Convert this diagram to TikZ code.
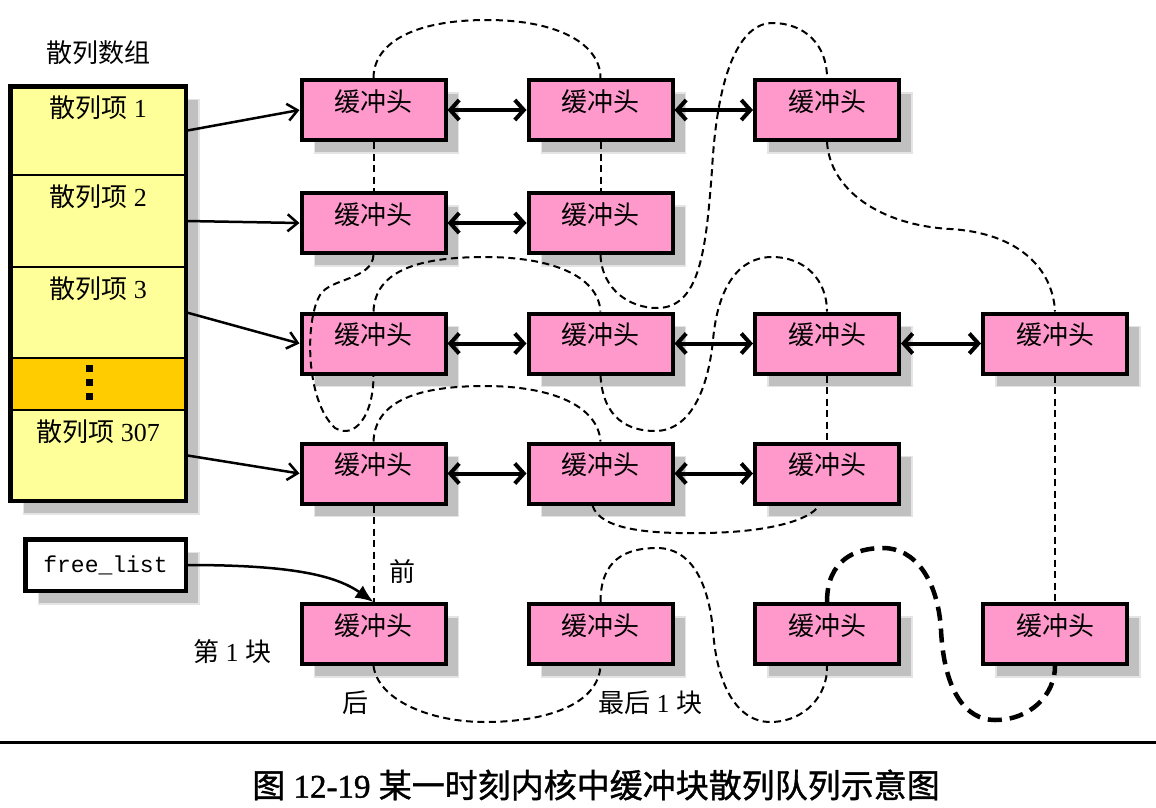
\documentclass[tikz,border=0pt]{standalone}
\usepackage{fontspec}
\setmainfont{Liberation Serif}
\newfontfamily\zhfont{Noto Sans CJK SC}
\newfontfamily\zhcap[FakeBold=1.2]{Noto Sans CJK SC}
\newfontfamily\capdig[FakeBold=1.2]{Liberation Serif}
\newfontfamily\monofont{Liberation Mono}
\newcommand\zh[1]{{\zhfont #1}}
\usetikzlibrary{arrows.meta,shadows,calc}
\definecolor{pinkc}{HTML}{FF99CC}
\definecolor{yellowc}{HTML}{FFFF99}
\definecolor{orangec}{HTML}{FFCC00}
\definecolor{shadowc}{HTML}{C0C0C0}
\definecolor{shadowedge}{HTML}{E4E4E4}
\begin{document}
\begin{tikzpicture}[x=1pt,y=-1pt,
  shad/.style={drop shadow={shadow xshift=13pt,shadow yshift=-13pt,fill=shadowc,draw=shadowedge,line width=1.5pt,opacity=1}},
  bh/.style={shad,draw,line width=4pt,fill=pinkc,minimum width=144pt,minimum height=60pt,inner sep=0pt,
    font=\fontsize{26pt}{30pt}\zhfont,text height=20pt,text depth=18pt},
  frame/.style={shad,draw,line width=4.5pt,fill=yellowc,minimum width=175.5pt,minimum height=414.5pt,inner sep=0pt,outer sep=0pt},
  hitem/.style={draw,line width=2pt,fill=yellowc,minimum width=175.5pt,inner sep=0pt},
  hlab/.style={label={[anchor=north,yshift=-10pt,inner sep=0pt,font=\fontsize{26pt}{30pt}\selectfont]north:#1}},
  txt/.style={inner sep=0pt,font=\fontsize{26pt}{30pt}\selectfont},
  flbox/.style={shad,draw,line width=4.5pt,fill=white,minimum width=160.5pt,minimum height=51.5pt,inner sep=0pt,
    font=\fontsize{23pt}{26pt}\monofont},
  hashar/.style={line width=2.5pt,-{Straight Barb[length=10pt,width=17pt]}},
  dblar/.style={line width=4pt,{Straight Barb[length=9pt,width=20pt]}-{Straight Barb[length=9pt,width=20pt]}},
  flar/.style={line width=2.5pt,-{Latex[length=18pt,width=15pt]}},
  dl/.style={line width=2pt,dash pattern=on 7pt off 4.5pt},
  thickdl/.style={line width=4.5pt,dash pattern=on 14pt off 8pt},
]
\useasboundingbox (0,0) rectangle (1156,807);

% hash array
\node[txt] (title) at (98,53) {\zh{散列数组}};
\node[frame] (harr) at (98,293.5) {};
\node[hitem,minimum height=88.75pt,hlab={\zh{散列项} 1}] (h1) at (98,130.625) {};
\node[hitem,minimum height=92pt,hlab={\zh{散列项} 2}] (h2) at (98,221) {};
\node[hitem,minimum height=91pt,hlab={\zh{散列项} 3}] (h3) at (98,312.5) {};
\node[hitem,minimum height=52pt,fill=orangec] (hd) at (98,384) {};
\node[hitem,minimum height=90.75pt,hlab={\zh{散列项} 307}] (h307) at (98,455.375) {};
\draw[line width=4.5pt] (harr.north west) rectangle (harr.south east);
\fill (85.5,364.5) rectangle ++(7,7);
\fill (85.5,378.5) rectangle ++(7,7);
\fill (85.5,392.5) rectangle ++(7,7);

% free list
\node[flbox] (fl) at (105.5,565) {free\_list};

% buffer heads
\node[bh] (b11) at (373.5,110) {缓冲头};
\node[bh] (b12) at (600.5,110) {缓冲头};
\node[bh] (b13) at (827,110) {缓冲头};
\node[bh] (b21) at (373.5,223) {缓冲头};
\node[bh] (b22) at (600.5,223) {缓冲头};
\node[bh] (b31) at (373.5,343.5) {缓冲头};
\node[bh] (b32) at (600.5,343.5) {缓冲头};
\node[bh] (b33) at (827,343.5) {缓冲头};
\node[bh] (b34) at (1055,343.5) {缓冲头};
\node[bh] (b41) at (373.5,473.5) {缓冲头};
\node[bh] (b42) at (600.5,473.5) {缓冲头};
\node[bh] (b43) at (827,473.5) {缓冲头};
\node[bh] (b51) at (373.5,634) {缓冲头};
\node[bh] (b52) at (600.5,634) {缓冲头};
\node[bh] (b53) at (827,634) {缓冲头};
\node[bh] (b54) at (1055,634) {缓冲头};

% labels
\node[txt] (lqian) at (402,572) {\zh{前}};
\node[txt] (lfirst) at (232,652) {\zh{第} 1 \zh{块}};
\node[txt] (lhou) at (355,703) {\zh{后}};
\node[txt] (llast) at (650,703) {\zh{最后} 1 \zh{块}};

% hash arrows
\draw[hashar] (h1.east) -- (b11.west);
\draw[hashar] (h2.east) -- (b21.west);
\draw[hashar] (h3.east) -- (b31.west);
\draw[hashar] (h307.east) -- (b41.west);

% double arrows
\draw[dblar] (b11.east) -- (b12.west);
\draw[dblar] (b12.east) -- (b13.west);
\draw[dblar] (b21.east) -- (b22.west);
\draw[dblar] (b31.east) -- (b32.west);
\draw[dblar] (b32.east) -- (b33.west);
\draw[dblar] (b33.east) -- (b34.west);
\draw[dblar] (b41.east) -- (b42.west);
\draw[dblar] (b42.east) -- (b43.west);

% free list arrow
\draw[flar] (fl.east) .. controls (290,565) and (335,575) .. (b51.north);

% dashed links
\draw[dl] (b11.north) .. controls (373.5,45) and (410,20) .. (487,20) .. controls (560,20) and (600.5,45) .. (b12.north);
\draw[dl] (b11.south) -- (b21.north);
\draw[dl] (b12.south) -- (b22.north);
\draw[dl] (b22.south) .. controls (602,290) and (630,308) .. (657,308) .. controls (700,308) and (706,250) .. (712,170)
   .. controls (718,60) and (745,23) .. (772,23) .. controls (805,23) and (827,45) .. (b13.north);
\draw[dl] (b13.south) .. controls (830,190) and (880,225) .. (950,229) .. controls (1020,233) and (1053,270) .. (b34.north);
\draw[dl] (b21.south) .. controls (372,280) and (330,278) .. (320,295) .. controls (305,320) and (305,400) .. (335,428)
   .. controls (355,440) and (373.5,415) .. (b31.south);
\draw[dl] (b31.north) .. controls (375,270) and (420,257) .. (485,257) .. controls (550,257) and (598,275) .. (b32.north);
\draw[dl] (b41.north) .. controls (375,400) and (420,386) .. (485,386) .. controls (550,386) and (598,405) .. (b42.north);
\draw[dl] (b32.south) .. controls (603,420) and (630,431) .. (655,431) .. controls (690,431) and (708,390) .. (713,340)
   .. controls (718,285) and (740,257) .. (772,257) .. controls (805,257) and (827,280) .. (b33.north);
\draw[dl] (b33.south) -- (b43.north);
\draw[dl] (b34.south) -- (b54.north);
\draw[dl] ($(b42.south)+(-8,0)$) .. controls (600,530) and (650,534) .. (705,533) .. controls (770,532) and (810,520) .. ($(b43.south)+(-8,0)$);
\draw[dl] (b41.south) -- (b51.north);
\draw[dl] (b51.south) .. controls (378,700) and (430,722) .. (485,722) .. controls (545,722) and (598,705) .. (b52.south);
\draw[dl] (b52.north) .. controls (600.5,560) and (625,548) .. (657,548) .. controls (690,548) and (708,580) .. (713,630)
   .. controls (717,690) and (740,722) .. (770,722) .. controls (805,722) and (828,695) .. (b53.south);
\draw[thickdl] (b53.north) .. controls (827,560) and (855,548) .. (883,548) .. controls (915,548) and (938,580) .. (941,630)
   .. controls (944,690) and (965,720) .. (995,720) .. controls (1030,720) and (1055,695) .. (b54.south);

% caption
\draw[line width=3pt] (0,742) -- (1156,742);
\node[inner sep=0pt,font=\fontsize{33pt}{38pt}\selectfont] (cap) at (596,785) {{\zhcap 图} {\capdig 12-19} {\zhcap 某一时刻内核中缓冲块散列队列示意图}};
\end{tikzpicture}
\end{document}
